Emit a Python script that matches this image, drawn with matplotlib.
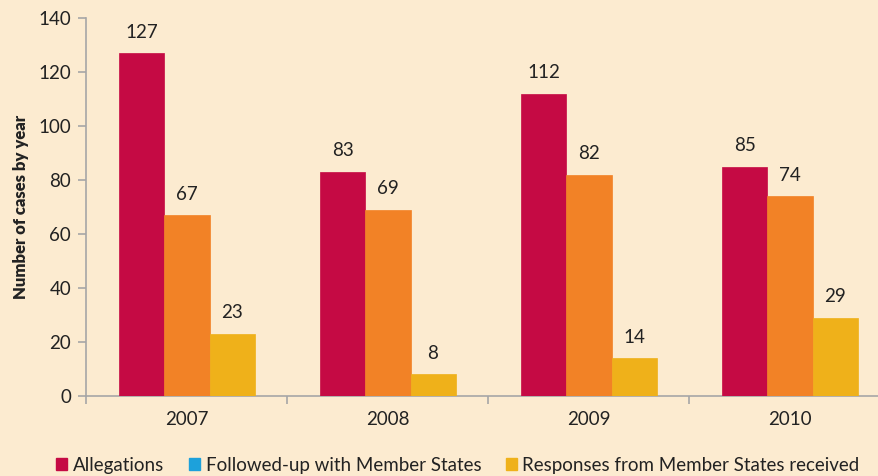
import matplotlib
matplotlib.use("Agg")
import matplotlib.pyplot as plt
import numpy as np
from matplotlib.patches import Patch

years = ["2007", "2008", "2009", "2010"]
allegations = [127, 83, 112, 85]
followed_up = [67, 69, 82, 74]
responses = [23, 8, 14, 29]
series_names = ["Allegations", "Followed-up with Member States", "Responses from Member States received"]

bg = "#FCEBD0"
c_red = "#C50A44"
c_orange = "#F28226"
c_yellow = "#EFB11A"
c_legend_blue = "#1DA1DB"
axis_col = "#A6A6A6"
text_col = "#222222"

plt.rcParams['font.family'] = ['Lato', 'DejaVu Sans']

fig = plt.figure(figsize=(8.79, 4.76), dpi=100, facecolor=bg)
W, H = 879, 476
left_px, right_px, top_px, bot_px = 86.5, 890.5, 18, 396
ax = fig.add_axes([left_px / W, (H - bot_px) / H, (right_px - left_px) / W, (bot_px - top_px) / H])
ax.set_facecolor(bg)

x = np.arange(len(years))
w = 0.224
series = [allegations, followed_up, responses]
colors = [c_red, c_orange, c_yellow]
for i, (vals, col) in enumerate(zip(series, colors)):
    bars = ax.bar(x + (i - 1) * w, vals, width=w, color=col, edgecolor=col, linewidth=0.5, zorder=3)
    for b, v in zip(bars, vals):
        ax.annotate(str(v), (b.get_x() + b.get_width() / 2, v), xytext=(0, 9),
                    textcoords="offset points", ha="center", va="bottom",
                    fontsize=13.5, color=text_col)

ax.set_xlim(-0.5, 3.5)
ax.set_ylim(0, 140)
ax.set_yticks(np.arange(0, 141, 20))
ax.set_xticks(x)
ax.set_xticklabels(years, fontsize=13.5, color=text_col)
ax.set_xticks(np.arange(-0.5, 3.6, 1), minor=True)
ax.tick_params(axis='x', which='major', length=0, pad=11)
ax.tick_params(axis='x', which='minor', length=6, color=axis_col, width=1.2)
ax.tick_params(axis='y', length=6, color=axis_col, width=1.2, labelsize=13.5, labelcolor=text_col, pad=5)

for s in ['top', 'right']:
    ax.spines[s].set_visible(False)
for s in ['left', 'bottom']:
    ax.spines[s].set_color(axis_col)
    ax.spines[s].set_linewidth(1.2)

ax.set_ylabel("Number of cases by year", fontsize=12, fontweight='heavy', color=text_col, labelpad=7)

handles = [Patch(facecolor=c, edgecolor=c) for c in [c_red, c_legend_blue, c_yellow]]
fig.legend(handles, series_names, loc='center', bbox_to_anchor=(0.521, (H - 465) / H),
           ncol=3, frameon=False, fontsize=13.5, handlelength=0.6, handleheight=0.6,
           handletextpad=0.3, columnspacing=1.3, labelcolor=text_col)

fig.savefig("out.png", dpi=100, facecolor=bg)
